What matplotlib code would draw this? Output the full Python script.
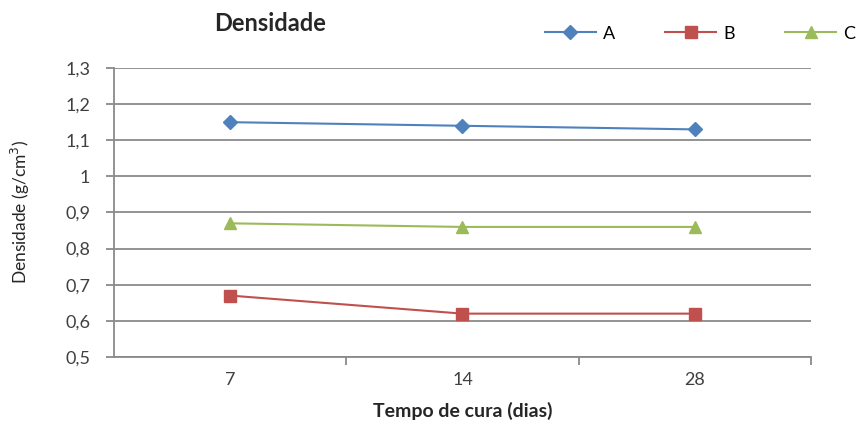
import matplotlib.pyplot as plt
import numpy as np

plt.rcParams['font.family'] = ['Lato', 'DejaVu Sans']

dias = ['7', '14', '28']
serie_a = [1.15, 1.14, 1.13]
serie_b = [0.67, 0.62, 0.62]
serie_c = [0.87, 0.86, 0.86]
y_ticks = [0.5, 0.6, 0.7, 0.8, 0.9, 1.0, 1.1, 1.2, 1.3]
y_labels = ['0,5', '0,6', '0,7', '0,8', '0,9', '1', '1,1', '1,2', '1,3']

fig = plt.figure(figsize=(8.61, 4.30), dpi=100)
ax = fig.add_axes([0.1324, 0.1698, 0.8095, 0.6721])

x = np.arange(len(dias))
grid_cor = '#8a8a8a'

ax.plot(x, serie_a, color='#4F81BD', marker='D', markersize=7, lw=1.5, label='A')
ax.plot(x, serie_b, color='#C0504D', marker='s', markersize=8, lw=1.5, label='B')
ax.plot(x, serie_c, color='#9BBB59', marker='^', markersize=9, lw=1.5, label='C')

ax.set_xlim(-0.5, 2.5)
ax.set_ylim(0.5, 1.3)
ax.set_yticks(y_ticks)
ax.set_yticklabels(y_labels, fontsize=13, color='#404040')
ax.yaxis.grid(True, color=grid_cor, lw=1.3)
ax.set_axisbelow(True)

ax.set_xticks(x)
ax.set_xticklabels(dias, fontsize=13, color='#404040')
ax.tick_params(axis='x', which='major', length=0, pad=11)
ax.set_xticks([0.5, 1.5, 2.5], minor=True)
ax.tick_params(axis='x', which='minor', length=6, color=grid_cor, width=1.3)
ax.tick_params(axis='y', length=6, color=grid_cor, width=1.3, pad=11)

for s in ['top', 'right']:
    ax.spines[s].set_visible(False)
for s in ['left', 'bottom']:
    ax.spines[s].set_color(grid_cor)
    ax.spines[s].set_linewidth(1.3)

ax.set_xlabel('Tempo de cura (dias)', fontsize=14, fontweight='bold', color='#262626', labelpad=10)
ax.set_ylabel('Densidade (g/cm$^3$)', fontsize=12.5, color='#262626')
ax.yaxis.set_label_coords(-0.118, 0.5)

fig.text(0.314, 0.945, 'Densidade', fontsize=17, fontweight='bold', color='#262626',
         ha='center', va='center')

fig.legend(loc='center right', bbox_to_anchor=(1.012, 0.922), ncol=3, frameon=False,
           fontsize=13, handlelength=2.8, columnspacing=2.8, handletextpad=0.4)

fig.savefig('out.png', dpi=100)
